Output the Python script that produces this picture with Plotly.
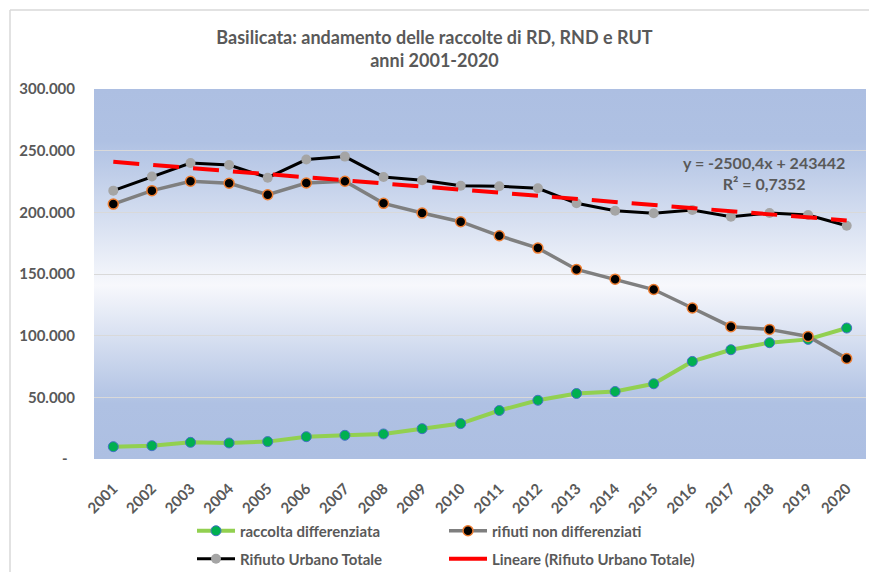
import base64
import plotly.graph_objects as go

years = list(range(2001, 2021))
year_labels = [str(y) for y in years]

raccolta_differenziata = [10000, 10800, 13500, 13000, 14100, 18100, 19200, 20300, 24600, 28700,
                          39300, 47600, 53100, 54700, 61000, 79100, 88600, 94300, 97000, 106200]
rifiuti_non_differenziati = [206700, 217600, 225200, 223600, 214300, 223800, 225200, 207300, 199400, 192400,
                             181000, 171000, 153700, 145800, 137400, 122400, 107300, 105100, 99400, 81500]
rifiuto_urbano_totale = [217600, 229000, 240000, 238400, 228100, 242800, 245200, 228700, 226000, 221600,
                         221100, 219500, 207300, 201300, 199200, 201900, 196400, 199400, 197800, 189100]

trend_slope = -2500.4
trend_intercept = 243442
trend_r2 = "0,7352"

y_tickvals = [0, 50000, 100000, 150000, 200000, 250000, 300000]
y_ticktext = ["-  ", "50.000", "100.000", "150.000", "200.000", "250.000", "300.000"]

trend_x = [years[0], years[-1]]
trend_y = [trend_slope * 1 + trend_intercept, trend_slope * len(years) + trend_intercept]

FONT = "Lato, 'Open Sans', sans-serif"
TXT = "#595959"

fig = go.Figure()

fig.add_trace(go.Scatter(
    x=years, y=raccolta_differenziata, name="raccolta differenziata", mode="lines+markers",
    line=dict(color="#92d050", width=4),
    marker=dict(size=10, color="#00b050", line=dict(color="#4472c4", width=1)),
    legend="legend"))
fig.add_trace(go.Scatter(
    x=years, y=rifiuti_non_differenziati, name="rifiuti non differenziati", mode="lines+markers",
    line=dict(color="#7f7f7f", width=3.5),
    marker=dict(size=10, color="#000000", line=dict(color="#ed7d31", width=1.5)),
    legend="legend"))
fig.add_trace(go.Scatter(
    x=years, y=rifiuto_urbano_totale, name="Rifiuto Urbano Totale", mode="lines+markers",
    line=dict(color="#000000", width=3),
    marker=dict(size=10, color="#a5a5a5"),
    legend="legend2"))
fig.add_trace(go.Scatter(
    x=trend_x, y=trend_y, name="Lineare (Rifiuto Urbano Totale)", mode="lines",
    line=dict(color="#ff0000", width=4, dash="26px,14px"),
    showlegend=False))
fig.add_trace(go.Scatter(
    x=[None], y=[None], name="Lineare (Rifiuto Urbano Totale)", mode="lines",
    line=dict(color="#ff0000", width=4), legend="legend2"))

svg = ('<svg xmlns="http://www.w3.org/2000/svg" width="100" height="100" viewBox="0 0 100 100" '
       'preserveAspectRatio="none"><defs><linearGradient id="g" x1="0" y1="0" x2="0" y2="1">'
       '<stop offset="0" stop-color="#adbfe2"/><stop offset="0.14" stop-color="#afc1e3"/>'
       '<stop offset="0.53" stop-color="#f7f8fc"/><stop offset="0.85" stop-color="#afc1e3"/>'
       '<stop offset="1" stop-color="#adbfe2"/></linearGradient></defs>'
       '<rect x="0" y="0" width="100" height="100" fill="url(#g)"/></svg>')
src = "data:image/svg+xml;base64," + base64.b64encode(svg.encode()).decode()

W, H = 869, 572
ML, MR, MT, MB = 94, 3, 89, 113
PW, PH = W - ML - MR, H - MT - MB


def px_x(p):
    return (p - ML) / PW


def px_y(p):
    return (H - MB - p) / PH


fig.update_layout(
    width=W, height=H,
    margin=dict(l=ML, r=MR, t=MT, b=MB, pad=0, autoexpand=False),
    paper_bgcolor="white", plot_bgcolor="rgba(0,0,0,0)",
    font=dict(family=FONT, color=TXT, size=14),
    title=dict(text="Basilicata: andamento delle raccolte di RD, RND e RUT<br>anni 2001-2020",
               x=0.5, xref="container", xanchor="center", y=1 - 44 / H, yref="container", yanchor="top",
               font=dict(family=FONT, size=18, color=TXT, weight="bold")),
    xaxis=dict(range=[2000.5, 2020.5], tickvals=years, ticktext=year_labels, tickangle=-45,
               showgrid=False, zeroline=False, showline=False, ticks="", ticklabelstandoff=17,
               tickfont=dict(family=FONT, size=15, color=TXT, weight="bold")),
    yaxis=dict(range=[0, 300000], tickvals=y_tickvals, ticktext=y_ticktext,
               showgrid=True, gridcolor="#d9d9d9", gridwidth=1, zeroline=False, showline=False,
               ticks="", ticklabelstandoff=18,
               tickfont=dict(family=FONT, size=15, color=TXT, weight="bold")),
    images=[dict(source=src, xref="paper", yref="paper", x=0, y=1, sizex=1, sizey=1,
                 xanchor="left", yanchor="top", sizing="stretch", layer="below")],
    legend=dict(orientation="h", x=px_x(192), xanchor="left", y=px_y(531), yanchor="middle",
                entrywidth=199, itemwidth=38, bgcolor="rgba(0,0,0,0)",
                font=dict(family=FONT, size=15, color=TXT, weight="bold")),
    legend2=dict(orientation="h", x=px_x(192), xanchor="left", y=px_y(559), yanchor="middle",
                 entrywidth=199, itemwidth=38, bgcolor="rgba(0,0,0,0)",
                 font=dict(family=FONT, size=15, color=TXT, weight="bold")),
    annotations=[dict(text="y = -2500,4x + 243442<br>R² = " + trend_r2, xref="paper", yref="paper",
                      x=px_x(764), y=px_y(173), xanchor="center", yanchor="middle", showarrow=False,
                      align="center", font=dict(family=FONT, size=16, color=TXT, weight="bold"))],
    shapes=[
        dict(type="line", xref="paper", yref="paper", x0=px_x(10), x1=px_x(10), y0=px_y(10), y1=px_y(H + 5),
             line=dict(color="#d9d9d9", width=1.5)),
        dict(type="line", xref="paper", yref="paper", x0=px_x(10), x1=px_x(W + 5), y0=px_y(10), y1=px_y(10),
             line=dict(color="#d9d9d9", width=1.5)),
    ],
    showlegend=True,
)

fig.write_html("out.html", config={"displayModeBar": False},
               post_script="document.body.style.margin='0px';")
